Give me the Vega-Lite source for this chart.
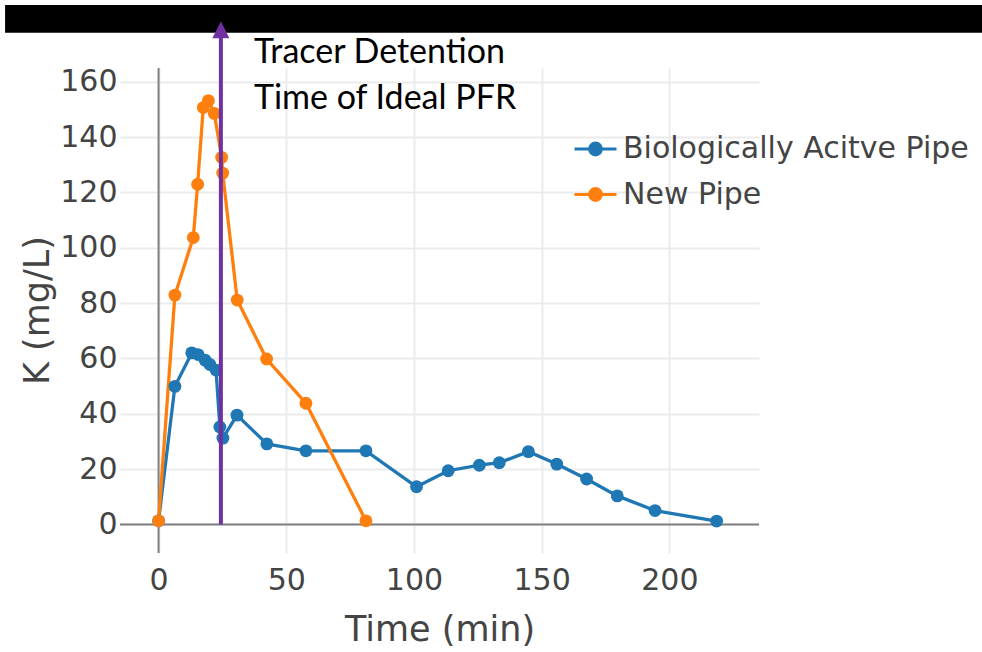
{
  "$schema": "https://vega.github.io/schema/vega-lite/v6.json",
  "width": 639,
  "height": 485,
  "autosize": "none",
  "padding": {"left": 120, "top": 68, "right": 223, "bottom": 99},
  "background": "white",
  "config": {
    "view": {"stroke": null},
    "axis": {
      "labelFont": "DejaVu Sans",
      "labelFontSize": 30,
      "labelColor": "#444",
      "titleFont": "DejaVu Sans",
      "titleFontSize": 35,
      "titleFontWeight": "normal",
      "titleColor": "#444",
      "domain": false,
      "ticks": false,
      "tickSize": 0,
      "grid": true,
      "gridColor": "#ebebeb",
      "gridWidth": 2
    },
    "legend": {
      "labelFont": "DejaVu Sans",
      "labelFontSize": 30,
      "labelColor": "#444",
      "labelLimit": 0
    }
  },
  "datasets": {
    "series": [
      {"time": 0, "K": 1.3, "pipe": "Biologically Acitve Pipe"},
      {"time": 6.4, "K": 49.9, "pipe": "Biologically Acitve Pipe"},
      {"time": 13.0, "K": 62.0, "pipe": "Biologically Acitve Pipe"},
      {"time": 15.5, "K": 61.4, "pipe": "Biologically Acitve Pipe"},
      {"time": 18.2, "K": 59.4, "pipe": "Biologically Acitve Pipe"},
      {"time": 20.1, "K": 57.8, "pipe": "Biologically Acitve Pipe"},
      {"time": 22.5, "K": 55.8, "pipe": "Biologically Acitve Pipe"},
      {"time": 24.0, "K": 35.2, "pipe": "Biologically Acitve Pipe"},
      {"time": 25.2, "K": 31.2, "pipe": "Biologically Acitve Pipe"},
      {"time": 30.7, "K": 39.5, "pipe": "Biologically Acitve Pipe"},
      {"time": 42.4, "K": 29.1, "pipe": "Biologically Acitve Pipe"},
      {"time": 57.7, "K": 26.6, "pipe": "Biologically Acitve Pipe"},
      {"time": 81.2, "K": 26.6, "pipe": "Biologically Acitve Pipe"},
      {"time": 101.0, "K": 13.6, "pipe": "Biologically Acitve Pipe"},
      {"time": 113.4, "K": 19.4, "pipe": "Biologically Acitve Pipe"},
      {"time": 125.6, "K": 21.4, "pipe": "Biologically Acitve Pipe"},
      {"time": 133.4, "K": 22.3, "pipe": "Biologically Acitve Pipe"},
      {"time": 144.8, "K": 26.3, "pipe": "Biologically Acitve Pipe"},
      {"time": 155.9, "K": 21.8, "pipe": "Biologically Acitve Pipe"},
      {"time": 167.6, "K": 16.4, "pipe": "Biologically Acitve Pipe"},
      {"time": 179.6, "K": 10.3, "pipe": "Biologically Acitve Pipe"},
      {"time": 194.4, "K": 5.0, "pipe": "Biologically Acitve Pipe"},
      {"time": 218.5, "K": 1.2, "pipe": "Biologically Acitve Pipe"},
      {"time": 0, "K": 1.3, "pipe": "New Pipe"},
      {"time": 6.4, "K": 82.9, "pipe": "New Pipe"},
      {"time": 13.6, "K": 103.7, "pipe": "New Pipe"},
      {"time": 15.3, "K": 123.0, "pipe": "New Pipe"},
      {"time": 17.5, "K": 150.7, "pipe": "New Pipe"},
      {"time": 19.5, "K": 153.2, "pipe": "New Pipe"},
      {"time": 21.8, "K": 148.6, "pipe": "New Pipe"},
      {"time": 24.7, "K": 132.7, "pipe": "New Pipe"},
      {"time": 25.1, "K": 127.0, "pipe": "New Pipe"},
      {"time": 30.8, "K": 81.1, "pipe": "New Pipe"},
      {"time": 42.3, "K": 59.8, "pipe": "New Pipe"},
      {"time": 57.7, "K": 43.8, "pipe": "New Pipe"},
      {"time": 81.2, "K": 1.3, "pipe": "New Pipe"}
    ]
  },
  "layer": [
    {
      "data": {"values": [{"x1": -60.1, "x2": 340, "y1": 177.7, "y2": 187.8}]},
      "mark": {"type": "rect", "color": "black", "clip": false},
      "encoding": {
        "x": {"field": "x1", "type": "quantitative", "scale": {"domain": [-15.1, 235.1], "nice": false, "zero": false},
          "axis": {"values": [0, 50, 100, 150, 200], "title": "Time (min)", "labelPadding": 12, "titleX": 319.5, "titleY": 87, "titleBaseline": "alphabetic", "titleAnchor": null}},
        "x2": {"field": "x2"},
        "y": {"field": "y1", "type": "quantitative", "scale": {"domain": [-10.34, 165.0], "nice": false, "zero": false},
          "axis": {"values": [0, 20, 40, 60, 80, 100, 120, 140, 160], "title": "K (mg/L)", "labelPadding": 3, "titleX": -72, "titleY": 242, "titleAngle": -90, "titleAlign": "center", "titleBaseline": "alphabetic", "titleAnchor": null}},
        "y2": {"field": "y2"}
      }
    },
    {
      "data": {"values": [{}]},
      "mark": {"type": "rule", "color": "#808080", "strokeWidth": 2},
      "encoding": {"x": {"datum": 0, "type": "quantitative"}}
    },
    {
      "data": {"values": [{}]},
      "mark": {"type": "rule", "color": "#808080", "strokeWidth": 2},
      "encoding": {"y": {"datum": 0, "type": "quantitative"}}
    },
    {
      "data": {"name": "series"},
      "mark": {"type": "line", "strokeWidth": 3.3},
      "encoding": {
        "x": {"field": "time", "type": "quantitative"},
        "y": {"field": "K", "type": "quantitative"},
        "color": {"field": "pipe", "type": "nominal",
          "scale": {"domain": ["Biologically Acitve Pipe", "New Pipe"], "range": ["#1f77b4", "#ff7f0e"]},
          "legend": {"title": null, "orient": "none", "legendX": 453, "legendY": 58.5, "padding": 0,
            "symbolType": "M-1,0H1M-0.28,0A0.28,0.28,0,1,0,0.28,0A0.28,0.28,0,1,0,-0.28,0Z",
            "symbolSize": 1764, "symbolStrokeWidth": 3, "labelOffset": 5, "rowPadding": 7.5}},
        "detail": {"field": "pipe"}
      }
    },
    {
      "data": {"name": "series"},
      "mark": {"type": "point", "filled": true, "size": 165, "opacity": 1},
      "encoding": {
        "x": {"field": "time", "type": "quantitative"},
        "y": {"field": "K", "type": "quantitative"},
        "color": {"field": "pipe", "type": "nominal"}
      }
    },
    {
      "data": {"values": [{}]},
      "mark": {"type": "rule", "color": "#7030A0", "strokeWidth": 4, "clip": false},
      "encoding": {
        "x": {"datum": 24.4, "type": "quantitative"},
        "y": {"datum": 0, "type": "quantitative"},
        "y2": {"datum": 175.9}
      }
    },
    {
      "data": {"values": [{}]},
      "mark": {"type": "point", "shape": "M0,-1L1,1L-1,1Z", "filled": true, "color": "#7030A0", "size": 289, "opacity": 1, "clip": false},
      "encoding": {
        "x": {"datum": 24.4, "type": "quantitative"},
        "y": {"datum": 178.8, "type": "quantitative"}
      }
    },
    {
      "data": {"values": [{}]},
      "mark": {"type": "text", "text": ["Tracer Detention", "Time of  Ideal PFR"], "font": "Lato", "fontSize": 34, "color": "black", "align": "left", "baseline": "alphabetic", "lineHeight": 46, "clip": false},
      "encoding": {
        "x": {"datum": 37.35, "type": "quantitative"},
        "y": {"datum": 166.8, "type": "quantitative"}
      }
    }
  ]
}
